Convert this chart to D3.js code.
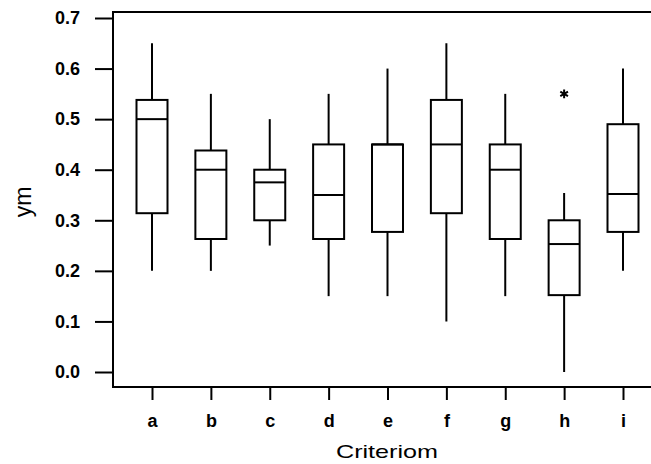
<!DOCTYPE html>
<html lang="en">
	<head>
		<meta charset="utf-8">
		<title>ym by criteriom</title>
		<script type="text/javascript" src="https://d3js.org/d3.v7.min.js"></script>
		<style type="text/css">
            body{margin:0;background:#fff;font-family:"Liberation Sans",Arial,sans-serif;}
            .tick text{font-weight:bold;font-size:18px;fill:#000;}
		</style>
	</head>
	<body>
    <div id="chart1"></div>
		<script type="text/javascript">
            //data
            var categories = ["a","b","c","d","e","f","g","h","i"]
            var whiskerLow = [0.20,0.20,0.25,0.15,0.15,0.10,0.15,0.00,0.20]
            var q1 =         [0.314,0.263,0.30,0.263,0.277,0.314,0.263,0.152,0.277]
            var medians =    [0.50,0.40,0.375,0.35,0.45,0.45,0.40,0.253,0.352]
            var q3 =         [0.538,0.438,0.40,0.45,0.45,0.538,0.45,0.30,0.49]
            var whiskerHigh =[0.65,0.55,0.50,0.55,0.60,0.65,0.55,0.354,0.60]
            var outliers = [{cat:"h",value:0.55}]
            var yTicks = [0,0.1,0.2,0.3,0.4,0.5,0.6,0.7]

            var w = 651
            var h = 464
            //note: "top" is taken by window.top, so use other names
            var plotLeft = 113, plotTop = 12, plotBottom = 387, plotRight = 670

            var svg = d3.select("#chart1")
                        .append("svg")
                        .attr("width",w)
                        .attr("height",h)

            var yScale = d3.scaleLinear().domain([0,0.7]).range([372,18])
            var xScale = d3.scalePoint().domain(categories).range([152,623])

            var boxes = categories.map(function(c,i){
                return {cat:c,lo:whiskerLow[i],q1:q1[i],med:medians[i],q3:q3[i],hi:whiskerHigh[i]}
            })

            //frame (right side falls outside the picture)
            svg.append("rect")
                .attr("x",plotLeft)
                .attr("y",plotTop)
                .attr("width",plotRight-plotLeft)
                .attr("height",plotBottom-plotTop)
                .attr("fill","none")
                .attr("stroke","#000")
                .attr("stroke-width",2)

            var yAxis = svg.append("g")
                .attr("transform","translate("+plotLeft+",0)")
                .call(d3.axisLeft(yScale).tickValues(yTicks).tickFormat(d3.format(".1f")).tickSize(18).tickPadding(15))
            yAxis.select(".domain").remove()
            yAxis.selectAll("line").attr("stroke-width",2)

            var xAxis = svg.append("g")
                .attr("transform","translate(0,"+plotBottom+")")
                .call(d3.axisBottom(xScale).tickSize(13).tickPadding(14))
            xAxis.select(".domain").remove()
            xAxis.selectAll("line").attr("stroke-width",2)

            var bw = 31
            var g = svg.selectAll(".box")
                .data(boxes)
                .enter()
                .append("g")
                .attr("class","box")

            g.append("line")
                .attr("x1",function(d){ return xScale(d.cat) })
                .attr("x2",function(d){ return xScale(d.cat) })
                .attr("y1",function(d){ return yScale(d.hi) })
                .attr("y2",function(d){ return yScale(d.lo) })
                .attr("stroke","#000")
                .attr("stroke-width",2)

            g.append("rect")
                .attr("x",function(d){ return xScale(d.cat)-bw/2 })
                .attr("y",function(d){ return yScale(d.q3) })
                .attr("width",bw)
                .attr("height",function(d){ return yScale(d.q1)-yScale(d.q3) })
                .attr("fill","#fff")
                .attr("stroke","#000")
                .attr("stroke-width",2)

            g.append("line")
                .attr("x1",function(d){ return xScale(d.cat)-bw/2 })
                .attr("x2",function(d){ return xScale(d.cat)+bw/2 })
                .attr("y1",function(d){ return yScale(d.med) })
                .attr("y2",function(d){ return yScale(d.med) })
                .attr("stroke","#000")
                .attr("stroke-width",2)

            svg.selectAll(".outlier")
                .data(outliers)
                .enter()
                .append("path")
                .attr("class","outlier")
                .attr("d",d3.symbol().type(d3.symbolAsterisk).size(55))
                .attr("transform",function(d){ return "translate("+xScale(d.cat)+","+yScale(d.value)+")" })
                .attr("fill","none")
                .attr("stroke","#000")
                .attr("stroke-width",2)

            //axis titles
            svg.append("text")
                .attr("transform","translate(31,202) rotate(-90)")
                .attr("text-anchor","middle")
                .attr("font-size",23)
                .text("ym")

            svg.append("text")
                .attr("x",387)
                .attr("y",458)
                .attr("text-anchor","middle")
                .attr("font-size",19)
                .attr("textLength",102)
                .attr("lengthAdjust","spacingAndGlyphs")
                .text("Criteriom")
        </script>
	</body>
</html>
